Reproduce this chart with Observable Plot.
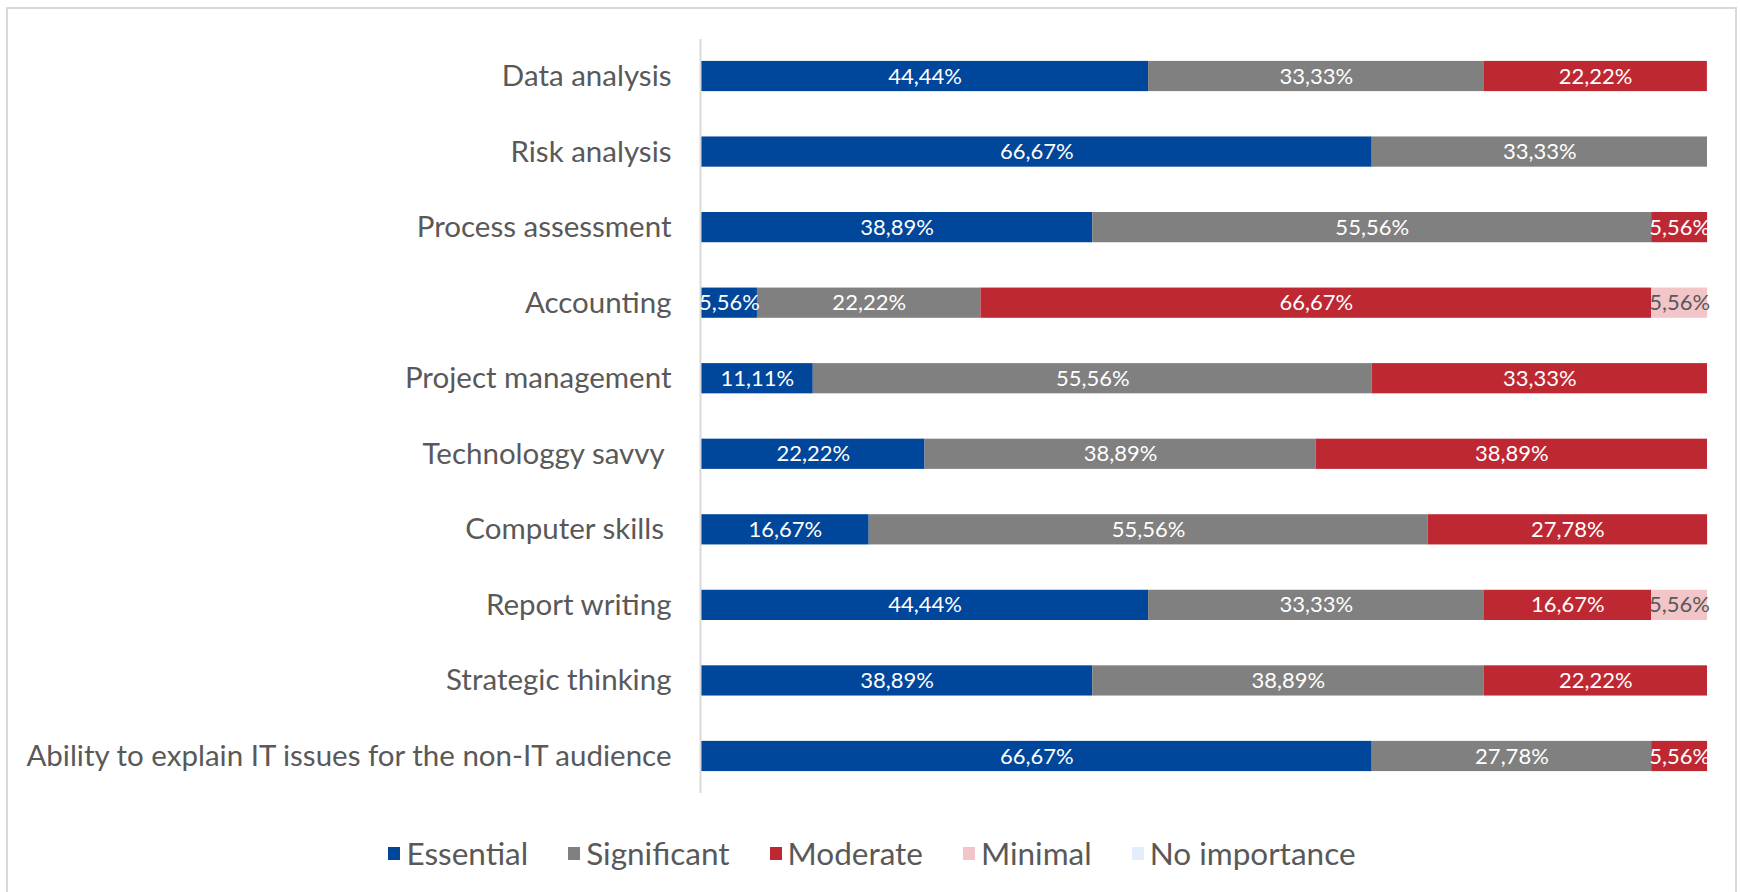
<!DOCTYPE html>
<html><head><meta charset="utf-8">
<script src="https://cdn.jsdelivr.net/npm/d3@7"></script>
<script src="https://cdn.jsdelivr.net/npm/@observablehq/plot@0.6"></script>
<style>
html,body{margin:0;padding:0;background:#fff;}
#wrap{position:relative;width:1740px;height:892px;overflow:hidden;font-family:Lato,sans-serif;}
#frame{position:absolute;left:6px;top:7px;width:1731px;height:900px;border:2px solid #D9D9D9;box-sizing:border-box;}
#chart{position:absolute;left:0;top:0;}
svg text{white-space:pre;}
#legend{position:absolute;left:2px;width:1740px;top:832px;display:flex;justify-content:center;gap:40px;font-size:31.5px;color:#595959;line-height:42px;}
.item{display:flex;align-items:center;gap:6px}
.sw{width:12px;height:13px;display:inline-block}
</style></head>
<body>
<div id="wrap">
  <div id="frame"></div>
  <div id="chart"></div>
  <div id="legend"></div>
</div>
<script>
const skills = [
  "Data analysis",
  "Risk analysis",
  "Process assessment",
  "Accounting",
  "Project management",
  "Technologgy savvy ",
  "Computer skills ",
  "Report writing",
  "Strategic thinking",
  "Ability to explain IT issues for the non-IT audience"
];
const categories = ["Essential", "Significant", "Moderate", "Minimal", "No importance"];
const essential    = [44.44, 66.67, 38.89, 5.56, 11.11, 22.22, 16.67, 44.44, 38.89, 66.67];
const significant  = [33.33, 33.33, 55.56, 22.22, 55.56, 38.89, 55.56, 33.33, 38.89, 27.78];
const moderate     = [22.22, 0, 5.56, 66.67, 33.33, 38.89, 27.78, 16.67, 22.22, 5.56];
const minimal      = [0, 0, 0, 5.56, 0, 0, 0, 5.56, 0, 0];
const noImportance = [0, 0, 0, 0, 0, 0, 0, 0, 0, 0];
const colors = ["#00469A", "#808080", "#BE2833", "#F2C5C9", "#E3EDFB"];

const series = [essential, significant, moderate, minimal, noImportance];
const rows = [];
categories.forEach((cat, ci) => {
  skills.forEach((skill, si) => {
    rows.push({skill, cat, ci, value: series[ci][si]});
  });
});
const fmt = v => v.toFixed(2).replace(".", ",") + "%";

const chart = Plot.plot({
  width: 1740,
  height: 810,
  marginTop: 39,
  marginBottom: 17,
  marginLeft: 701,
  marginRight: 33,
  style: {fontFamily: "Lato, sans-serif", fontSize: "29.5px", color: "#595959", background: "transparent"},
  x: {domain: [0, 100], axis: null},
  y: {domain: skills, paddingInner: 0.6, paddingOuter: 0.29, round: false, label: null},
  color: {type: "identity"},
  marks: [
    Plot.axisY({tickSize: 0, tickPadding: 30, label: null, fontSize: 29.5}),
    Plot.barX(rows, Plot.stackX({x: "value", y: "skill", z: "cat", fill: d => colors[d.ci]})),
    Plot.ruleX([0], {stroke: "#D9D9D9", strokeWidth: 2, dx: -1}),
    Plot.text(rows, Plot.stackX({
      x: "value", y: "skill", z: "cat",
      text: d => d.value > 0 ? fmt(d.value) : "",
      fill: d => d.cat === "Minimal" ? "#595959" : "#ffffff",
      fontSize: 22
    }))
  ]
});
document.getElementById("chart").appendChild(chart);

const legend = document.getElementById("legend");
categories.forEach((cat, i) => {
  const it = document.createElement("div");
  it.className = "item";
  const sw = document.createElement("span");
  sw.className = "sw";
  sw.style.background = colors[i];
  const t = document.createElement("span");
  t.textContent = cat;
  it.appendChild(sw); it.appendChild(t);
  legend.appendChild(it);
});
</script>
</body></html>
